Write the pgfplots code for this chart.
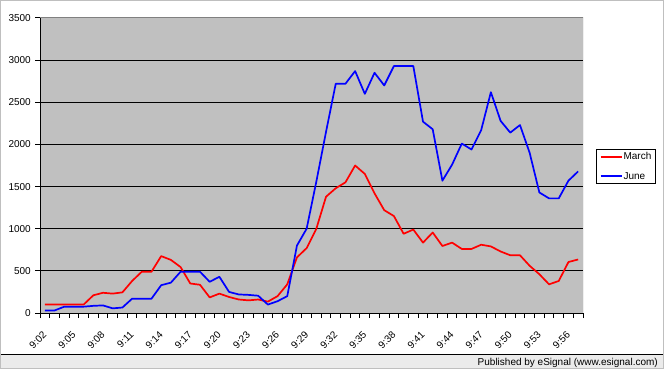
\documentclass[border=0pt]{standalone}
\usepackage{fontspec}
\setmainfont{Liberation Sans}
\usepackage{pgfplots}
\usepackage{pgfplotstable}
\pgfplotsset{compat=1.18}
\definecolor{plotbg}{HTML}{C0C0C0}
\definecolor{stripbg}{HTML}{EBEBEB}
\definecolor{frameg}{HTML}{808080}
\pgfplotstableread{
idx march june
0 100 30
1 100 30
2 100 75
3 100 75
4 100 75
5 210 85
6 240 90
7 230 55
8 245 65
9 380 170
10 490 170
11 490 170
12 675 330
13 630 360
14 545 490
15 350 490
16 335 490
17 185 370
18 230 430
19 190 250
20 160 220
21 150 215
22 160 205
23 135 100
24 200 140
25 340 200
26 660 800
27 770 1000
28 1000 1560
29 1380 2150
30 1480 2720
31 1550 2720
32 1750 2870
33 1650 2600
34 1420 2850
35 1220 2700
36 1150 2930
37 940 2930
38 990 2930
39 835 2270
40 955 2180
41 795 1570
42 835 1760
43 760 2010
44 760 1940
45 810 2170
46 790 2620
47 730 2280
48 685 2140
49 685 2230
50 560 1900
51 460 1430
52 340 1360
53 380 1360
54 605 1570
55 635 1680
}\datatable
\begin{document}
\begin{tikzpicture}
\useasboundingbox (0bp,0bp) rectangle (664bp,369bp);
\fill[white] (0bp,0bp) rectangle (664bp,369bp);
\fill[stripbg] (0bp,0bp) rectangle (664bp,14bp);
\draw[black, line width=1bp] (0bp,14.5bp) -- (664bp,14.5bp);
\draw[black!25, line width=1bp] (0.5bp,0.5bp) rectangle (663.5bp,368.5bp);
\node[anchor=base east, font=\fontsize{10bp}{12bp}\selectfont, inner sep=0pt] at (658bp,4bp) {Published by eSignal (www.esignal.com)};
\begin{axis}[
  at={(40bp,56bp)}, anchor=south west, scale only axis,
  width=543bp, height=295bp,
  xmin=-0.5, xmax=55.5, ymin=0, ymax=3500,
  axis lines*=left,
  axis line style={black, line width=1bp},
  axis background/.style={fill=plotbg},
  xtick={0,3,...,54},
  xticklabels={9:02,9:05,9:08,9:11,9:14,9:17,9:20,9:23,9:26,9:29,9:32,9:35,9:38,9:41,9:44,9:47,9:50,9:53,9:56},
  minor xtick={-0.5,0.5,...,55.5},
  ytick={0,500,...,3500},
  minor ytick={0,500,...,3500},
  major tick length=0pt,
  minor tick length=5bp,
  major tick style={draw=none},
  minor tick style={black, line width=1bp},
  tick align=outside,
  ymajorgrids,
  major grid style={black, line width=1bp},
  /pgf/number format/assume math mode=true,
  /pgf/number format/1000 sep={},
  yticklabel style={font=\fontsize{10bp}{12bp}\selectfont, anchor=east, inner sep=0pt, xshift=-9bp},
  xticklabel style={font=\fontsize{10bp}{12bp}\selectfont, inner sep=0pt, yshift=-20bp, rotate=45, anchor=east},
  legend style={at={(1.024,0.5559)}, anchor=north west, draw=black, line width=1bp, fill=white,
    font=\fontsize{10bp}{12bp}\selectfont, inner xsep=3bp, inner ysep=2bp, /tikz/row sep=9bp,
    nodes={inner sep=1bp}},
  legend cell align=left,
  legend image code/.code={\draw[#1, line width=2bp] (0bp,0bp) -- (21bp,0bp);},
]
\addplot[red, line width=1.7bp, line join=round] table[x=idx, y=march] {\datatable};
\addlegendentry{March}
\addplot[blue, line width=1.7bp, line join=round] table[x=idx, y=june] {\datatable};
\addlegendentry{June}
\draw[frameg, line width=1bp] (rel axis cs:0,1) -- (rel axis cs:1,1) -- (rel axis cs:1,0);
\end{axis}
\end{tikzpicture}
\end{document}
